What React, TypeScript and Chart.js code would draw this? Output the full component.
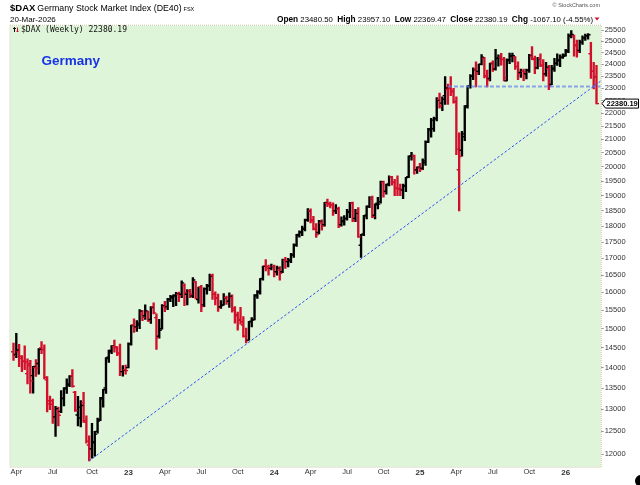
import React, { useEffect, useRef } from "react";
import { Chart, registerables } from "chart.js";

Chart.register(...registerables);

const FONT = '"Liberation Sans", Arial, Helvetica, sans-serif';
const MONO = '"DejaVu Sans Mono", "Liberation Mono", monospace';

// ---- Data: weekly bars, first bar = week ending 25-Mar-2022, last = 20-Mar-2026 ----
const PREV_CLOSE = 14413;

const OPENS = [
  14400, 14330, 14400, 14230, 14150, 13850, 14050, 13800, 14000, 14100,
  14500, 14450, 13700, 13200, 13200, 12830, 12950, 12950, 13250, 13500,
  13600, 13800, 13400, 12870, 12800, 13150, 12700, 12200, 12120, 12250,
  12500, 12770, 13270, 13500, 14260, 14400, 14530, 14500, 14350, 13900,
  13950, 14000, 14600, 15100, 15050, 15100, 15400, 15350, 15450, 15250,
  15600, 15300, 14800, 15000, 15600, 15600, 15800, 15850, 15900, 15950,
  15950, 16200, 15950, 16050, 15900, 16300, 15800, 16150, 15650, 16100,
  16200, 16500, 15950, 15850, 15600, 15650, 15850, 15750, 15850, 15500,
  15350, 15250, 15100, 14800, 14700, 15200, 15250, 15900, 16000, 16400,
  16780, 16700, 16700, 16750, 16600, 16650, 16600, 16950, 16900, 16950,
  17100, 17400, 17700, 17800, 17900, 18200, 18500, 18200, 17900, 17800,
  18100, 18050, 18750, 18750, 18700, 18500, 18550, 18050, 18150, 18250,
  18450, 18750, 18250, 18450, 17400, 17750, 18350, 18650, 18900, 18350,
  18750, 18800, 19450, 19150, 19400, 19650, 19450, 19250, 19250, 19200,
  19350, 19650, 20380, 20400, 19900, 19950, 19950, 20150, 20900, 21350,
  21400, 21800, 22550, 22400, 22700, 22950, 23050, 22850, 22450, 19900,
  20600, 21100, 22300, 23100, 23500, 23800, 23700, 24000, 24250, 23500,
  23400, 24050, 23800, 24250, 24300, 24200, 23300, 24200, 24350, 24300,
  23900, 23650, 23700, 23600, 23750, 24350, 24200, 23850, 24250, 23950,
  23600, 23800, 23150, 23800, 24050, 24150, 24300, 24400, 24600, 25250,
  25250, 24850, 24600, 24950, 25150, 25250, 24450, 23700, 23480.5,
];

const HIGHS = [
  14620, 14880, 14590, 14300, 14550, 14220, 14180, 14030, 14200, 14480,
  14660, 14580, 13780, 13310, 13240, 13070, 13050, 13440, 13510, 13720,
  13800, 13950, 13420, 13300, 13200, 13400, 12850, 12400, 12680, 12500,
  12800, 13280, 13470, 14250, 14440, 14560, 14700, 14530, 14600, 14050,
  14060, 14630, 15100, 15270, 15220, 15520, 15500, 15650, 15480, 15600,
  15710, 15400, 15250, 15660, 15750, 15830, 15920, 15930, 16000, 16010,
  16330, 16250, 16080, 16090, 16430, 16320, 16150, 16200, 16130, 16230,
  16530, 16530, 16020, 15950, 15770, 15970, 15900, 15990, 15930, 15600,
  15450, 15580, 15330, 15020, 15200, 15300, 15940, 16050, 16400, 16770,
  16960, 16800, 16830, 16800, 16770, 16750, 16980, 17030, 17000, 17150,
  17440, 17740, 17850, 18000, 18230, 18570, 18560, 18320, 18080, 18190,
  18200, 18780, 18890, 18790, 18760, 18700, 18620, 18300, 18340, 18550,
  18780, 18790, 18550, 18600, 17740, 18350, 18660, 18970, 18990, 18730,
  18950, 19500, 19500, 19400, 19680, 19670, 19560, 19680, 19400, 19400,
  19630, 20400, 20520, 20420, 20000, 20130, 20290, 20950, 21420, 21800,
  21850, 22620, 22800, 22650, 23480, 23170, 23480, 23000, 22650, 21250,
  21300, 22300, 23100, 23560, 23850, 24100, 24010, 24420, 24300, 23750,
  24050, 24150, 24640, 24400, 24470, 24300, 24230, 24480, 24480, 24330,
  24100, 23800, 23800, 23800, 24430, 24770, 24350, 24300, 24450, 24200,
  24080, 23950, 23950, 24250, 24450, 24400, 24450, 24650, 25330, 25480,
  25280, 25050, 25050, 25240, 25320, 25350, 24950, 24080, 23957.1,
];

const LOWS = [
  14180, 14250, 14020, 13900, 13950, 13600, 13380, 13380, 13780, 13840,
  14350, 13720, 12940, 12990, 12680, 12390, 12620, 12920, 13080, 13370,
  13530, 13520, 12950, 12620, 12600, 12700, 12240, 11862, 11920, 11960,
  12460, 12740, 13050, 13370, 14130, 14350, 14390, 14300, 13800, 13790,
  13840, 13990, 14570, 14900, 14930, 15000, 15220, 15250, 15200, 15140,
  15400, 14458, 14750, 14990, 15460, 15520, 15740, 15600, 15630, 15740,
  15850, 15630, 15650, 15850, 15850, 15820, 15700, 15460, 15600, 15950,
  16050, 15800, 15650, 15470, 15550, 15640, 15660, 15580, 15450, 15150,
  14960, 15120, 14780, 14630, 14700, 15050, 15240, 15830, 15950, 16350,
  16620, 16500, 16650, 16450, 16500, 16350, 16570, 16700, 16740, 16870,
  17030, 17360, 17650, 17700, 17850, 18150, 18100, 17880, 17640, 17750,
  17870, 18000, 18630, 18590, 18350, 18400, 17950, 18000, 18030, 18190,
  18270, 18140, 18140, 17640, 17024, 17700, 18230, 18600, 18270, 18230,
  18560, 18750, 18950, 19050, 19330, 19360, 19000, 19000, 19000, 18900,
  19140, 19620, 20240, 19740, 19770, 19830, 19900, 20050, 20880, 21080,
  21300, 21700, 22200, 22100, 22350, 22350, 22700, 22400, 20440, 18490,
  20380, 20950, 22200, 23000, 23350, 23050, 23560, 23970, 23420, 23050,
  23300, 23700, 23750, 23920, 23960, 23300, 23300, 24030, 24100, 23780,
  23350, 23450, 23310, 23380, 23650, 24200, 23600, 23800, 23900, 23300,
  23500, 22940, 23140, 23700, 23950, 23900, 24250, 24350, 24500, 25150,
  24350, 24300, 24500, 24860, 25040, 25090, 23400, 22970, 22369.47,
];

const CLOSES = [
  14306, 14446, 14284, 14163, 14142, 14098, 13674, 14027, 13982, 14462,
  14460, 13762, 13126, 13118, 12813, 13015, 12864, 13254, 13484, 13574,
  13795, 13544, 12971, 13050, 13088, 12741, 12284, 12114, 12273, 12438,
  12731, 13243, 13460, 14225, 14432, 14541, 14529, 14371, 13894, 13941,
  13924, 14610, 15087, 15034, 15150, 15476, 15308, 15482, 15210, 15578,
  15428, 14768, 14957, 15629, 15598, 15808, 15882, 15922, 15961, 15914,
  16275, 15984, 16051, 15950, 16358, 15830, 16148, 15603, 16105, 16177,
  16469, 15952, 15832, 15574, 15632, 15840, 15740, 15894, 15558, 15387,
  15230, 15187, 14798, 14688, 15189, 15234, 15919, 16029, 16398, 16759,
  16751, 16706, 16752, 16594, 16705, 16555, 16961, 16918, 16927, 17117,
  17419, 17735, 17815, 17936, 18206, 18492, 18175, 17930, 17737, 18161,
  18001, 18773, 18704, 18693, 18498, 18557, 18002, 18164, 18235, 18475,
  18748, 18171, 18418, 17661, 17723, 18322, 18633, 18907, 18302, 18699,
  18720, 19474, 19121, 19374, 19657, 19464, 19255, 19215, 19211, 19323,
  19626, 20385, 20406, 19885, 19985, 19906, 20215, 20903, 21394, 21732,
  21787, 22513, 22287, 22551, 23009, 22987, 22892, 22461, 20642, 20374,
  21206, 22242, 23087, 23499, 23767, 23630, 23997, 24304, 23516, 23350,
  24033, 23787, 24255, 24290, 24218, 23426, 24163, 24359, 24363, 23902,
  23597, 23698, 23639, 23739, 24379, 24241, 23831, 24240, 23958, 23569,
  23877, 23091, 23836, 24028, 24186, 24288, 24340, 24540, 25260, 25300,
  24800, 24550, 24950, 25150, 25250, 25290, 23700, 23447.29, 22380.19,
];

// x-axis: bar index of first weekly bar in each quarter month
const X_TICK_BARS = [1, 14, 28, 41, 54, 67, 80, 93, 106, 119, 132, 145, 158, 171, 184, 197];
const X_TICK_LABELS = ["Apr", "Jul", "Oct", "23", "Apr", "Jul", "Oct", "24", "Apr", "Jul", "Oct", "25", "Apr", "Jul", "Oct", "26"];
const YEAR_LABELS = ["23", "24", "25", "26"];

const Y_TICKS = [
  12000, 12500, 13000, 13500, 14000, 14500, 15000, 15500, 16000, 16500,
  17000, 17500, 18000, 18500, 19000, 19500, 20000, 20500, 21000, 21500,
  22000, 22500, 23000, 23500, 24000, 24500, 25000, 25500,
];
const Y_MIN = 11739;
const Y_MAX = 25702;

const TREND_FROM = { bar: 27, price: 11862 };
const TREND_THROUGH = { bar: 124, price: 16980 };
const SUPPORT = { bar: 155, price: 23070 };

const SYMBOL = "$DAX";
const NAME = "Germany Stock Market Index (DE40)";
const EXCHANGE = "FSX";
const DATE_TEXT = "20-Mar-2026";
const QUOTE = [
  ["Open", "23480.50"],
  ["High", "23957.10"],
  ["Low", "22369.47"],
  ["Close", "22380.19"],
  ["Chg", "-1067.10 (-4.55%)"],
];
const LEGEND_TEXT = "$DAX (Weekly) 22380.19";
const ANNOTATION = "Germany";
const CREDIT = "\u00A9 StockCharts.com";
const LAST_LABEL = "22380.19";

const UP = "#000000";
const DOWN = "#d2102c";
const PLOT_BG = "rgb(222,245,217)";

export default function App() {
  const ref = useRef<HTMLCanvasElement | null>(null);

  useEffect(() => {
    const canvas = ref.current;
    if (!canvas) return;
    const colors = CLOSES.map((c, i) => (c >= (i === 0 ? PREV_CLOSE : CLOSES[i - 1]) ? UP : DOWN));
    const bars = CLOSES.map((_, i) => ({ x: i, y: [LOWS[i], HIGHS[i]] }));
    const last = CLOSES.length - 1;

    const plugin = {
      id: "stockchartsLook",
      beforeDraw(chart: any) {
        const { ctx, chartArea: a } = chart;
        ctx.save();
        ctx.fillStyle = "#ffffff";
        ctx.fillRect(0, 0, chart.width, chart.height);
        ctx.fillStyle = PLOT_BG;
        ctx.fillRect(a.left, a.top, a.right - a.left, a.bottom - a.top);
        ctx.restore();
      },
      afterDatasetsDraw(chart: any) {
        const { ctx, chartArea: a } = chart;
        const xs = chart.scales.x;
        const ys = chart.scales.y;
        ctx.save();
        ctx.beginPath();
        ctx.rect(a.left, a.top, a.right - a.left, a.bottom - a.top);
        ctx.clip();
        // open / close ticks
        ctx.lineWidth = 1.4;
        for (let i = 0; i <= last; i++) {
          const x = xs.getPixelForValue(i);
          const yo = ys.getPixelForValue(OPENS[i]);
          const yc = ys.getPixelForValue(CLOSES[i]);
          ctx.strokeStyle = colors[i];
          ctx.beginPath();
          ctx.moveTo(x - 2.5, yo);
          ctx.lineTo(x, yo);
          ctx.moveTo(x, yc);
          ctx.lineTo(x + 2.5, yc);
          ctx.stroke();
        }
        // support line
        const sy = ys.getPixelForValue(SUPPORT.price);
        ctx.setLineDash([4, 2]);
        ctx.strokeStyle = "rgba(100,130,240,0.7)";
        ctx.lineWidth = 1.8;
        ctx.beginPath();
        ctx.moveTo(xs.getPixelForValue(SUPPORT.bar), sy);
        ctx.lineTo(a.right, sy);
        ctx.stroke();
        // trend line
        const x1 = xs.getPixelForValue(TREND_FROM.bar);
        const y1 = ys.getPixelForValue(TREND_FROM.price);
        const x2 = xs.getPixelForValue(TREND_THROUGH.bar);
        const y2 = ys.getPixelForValue(TREND_THROUGH.price);
        const yEnd = y1 + ((y2 - y1) / (x2 - x1)) * (a.right - x1);
        ctx.setLineDash([2.5, 2]);
        ctx.strokeStyle = "#2b4ef2";
        ctx.lineWidth = 1;
        ctx.beginPath();
        ctx.moveTo(x1, y1);
        ctx.lineTo(a.right, yEnd);
        ctx.stroke();
        ctx.restore();
      },
      afterDraw(chart: any) {
        const { ctx, chartArea: a } = chart;
        const ys = chart.scales.y;
        ctx.save();
        // plot border
        ctx.setLineDash([1, 1]);
        ctx.strokeStyle = "#c4c4a0";
        ctx.lineWidth = 1;
        ctx.strokeRect(a.left - 0.5, a.top - 0.5, a.right - a.left + 1, a.bottom - a.top + 1);
        ctx.setLineDash([]);

        // header line 1
        ctx.textBaseline = "alphabetic";
        ctx.textAlign = "left";
        ctx.fillStyle = "#000";
        ctx.font = `bold 9.5px ${FONT}`;
        ctx.fillText(SYMBOL, 10, 10.5);
        let x = 10 + ctx.measureText(SYMBOL).width + 2;
        ctx.font = `8.8px ${FONT}`;
        ctx.fillText(NAME, x, 10.5);
        x += ctx.measureText(NAME).width + 2;
        ctx.font = `5.5px ${FONT}`;
        ctx.fillText(EXCHANGE, x, 10.5);

        // credit
        ctx.fillStyle = "#555";
        ctx.font = `5.5px ${FONT}`;
        ctx.textAlign = "right";
        ctx.fillText(CREDIT, 600, 7);
        ctx.textAlign = "left";

        // header line 2
        ctx.fillStyle = "#000";
        ctx.font = `8px ${FONT}`;
        ctx.fillText(DATE_TEXT, 10, 21.5);
        const boldF = `bold 8.3px ${FONT}`;
        const normF = `7.8px ${FONT}`;
        let total = 0;
        QUOTE.forEach(([k, v], idx) => {
          ctx.font = boldF;
          total += ctx.measureText(k).width;
          ctx.font = normF;
          total += ctx.measureText(" " + v + (idx < QUOTE.length - 1 ? "  " : "")).width;
        });
        let qx = 593 - total;
        QUOTE.forEach(([k, v], idx) => {
          ctx.font = boldF;
          ctx.fillText(k, qx, 21.5);
          qx += ctx.measureText(k).width;
          ctx.font = normF;
          const t = " " + v + (idx < QUOTE.length - 1 ? "  " : "");
          ctx.fillText(t, qx, 21.5);
          qx += ctx.measureText(t).width;
        });
        ctx.fillStyle = DOWN;
        ctx.beginPath();
        ctx.moveTo(594.5, 17.5);
        ctx.lineTo(599.5, 17.5);
        ctx.lineTo(597, 20.5);
        ctx.closePath();
        ctx.fill();

        // legend inside plot
        ctx.strokeStyle = "#000";
        ctx.lineWidth = 1;
        ctx.beginPath();
        ctx.moveTo(14.5, 27.5);
        ctx.lineTo(14.5, 32);
        ctx.moveTo(13, 29);
        ctx.lineTo(14.5, 27.5);
        ctx.lineTo(16, 29);
        ctx.stroke();
        ctx.strokeStyle = DOWN;
        ctx.beginPath();
        ctx.moveTo(17.5, 27.5);
        ctx.lineTo(17.5, 32);
        ctx.moveTo(16.3, 30.8);
        ctx.lineTo(17.5, 32);
        ctx.lineTo(18.7, 30.8);
        ctx.stroke();
        ctx.fillStyle = "#111";
        ctx.font = `8px ${MONO}`;
        ctx.fillText(LEGEND_TEXT, 21, 31.5);

        // annotation
        ctx.fillStyle = "#1633e6";
        ctx.font = `bold 13.5px ${FONT}`;
        ctx.fillText(ANNOTATION, 41.5, 65);

        // last price tag
        const yp = ys.getPixelForValue(CLOSES[last]);
        ctx.fillStyle = "#fff";
        ctx.strokeStyle = "#000";
        ctx.lineWidth = 1;
        ctx.beginPath();
        ctx.moveTo(602, yp);
        ctx.lineTo(605.5, yp - 4.5);
        ctx.lineTo(638.5, yp - 4.5);
        ctx.lineTo(638.5, yp + 4.5);
        ctx.lineTo(605.5, yp + 4.5);
        ctx.closePath();
        ctx.fill();
        ctx.stroke();
        ctx.fillStyle = "#000";
        ctx.font = `bold 7.5px ${FONT}`;
        ctx.textBaseline = "middle";
        ctx.fillText(LAST_LABEL, 606.5, yp + 0.5);

        // corner mark
        ctx.fillStyle = "#000";
        ctx.beginPath();
        ctx.arc(641, 481, 6, 0, Math.PI * 2);
        ctx.fill();
        ctx.restore();
      },
    };

    const chart = new Chart(canvas, {
      type: "bar",
      data: {
        datasets: [
          {
            data: bars as any,
            backgroundColor: colors,
            borderWidth: 0,
            barThickness: 1.7,
          },
        ],
      },
      options: {
        responsive: false,
        animation: false,
        events: [],
        layout: { padding: { top: 25.7, left: 10.5, right: 0, bottom: 0 } },
        plugins: { legend: { display: false }, tooltip: { enabled: false } },
        scales: {
          x: {
            type: "linear",
            min: -1.07,
            max: 209.5,
            offset: false,
            afterBuildTicks: (s: any) => {
              s.ticks = X_TICK_BARS.map((v) => ({ value: v }));
            },
            afterFit: (s: any) => {
              s.height = 18.3;
            },
            grid: { display: false, drawTicks: false },
            border: { display: false },
            ticks: {
              autoSkip: false,
              maxRotation: 0,
              minRotation: 0,
              padding: 1,
              color: "#333",
              font: (c: any) => {
                const idx = X_TICK_BARS.indexOf(c.tick ? c.tick.value : -1);
                const lab = idx >= 0 ? X_TICK_LABELS[idx] : "";
                const isYear = YEAR_LABELS.includes(lab);
                return { family: FONT, size: isYear ? 8 : 7.5, weight: isYear ? "bold" : "normal" };
              },
              callback: (v: any) => {
                const idx = X_TICK_BARS.indexOf(Number(v));
                return idx >= 0 ? X_TICK_LABELS[idx] : "";
              },
            },
          },
          y: {
            type: "logarithmic",
            position: "right",
            min: Y_MIN,
            max: Y_MAX,
            afterBuildTicks: (s: any) => {
              s.ticks = Y_TICKS.map((v) => ({ value: v }));
            },
            afterFit: (s: any) => {
              s.width = 39.3;
            },
            grid: { drawOnChartArea: false, drawTicks: true, tickLength: 3, color: "#9a9a9a" },
            border: { display: false },
            ticks: {
              autoSkip: false,
              padding: 1,
              color: "#333",
              font: { family: FONT, size: 7.5 },
              callback: (v: any) => String(v),
            },
          },
        },
      },
      plugins: [plugin],
    } as any);

    return () => chart.destroy();
  }, []);

  return (
    <div style={{ position: "absolute", left: 0, top: 0, width: 640, height: 485, background: "#fff" }}>
      <canvas ref={ref} width={640} height={485} style={{ display: "block", width: 640, height: 485 }} />
    </div>
  );
}
